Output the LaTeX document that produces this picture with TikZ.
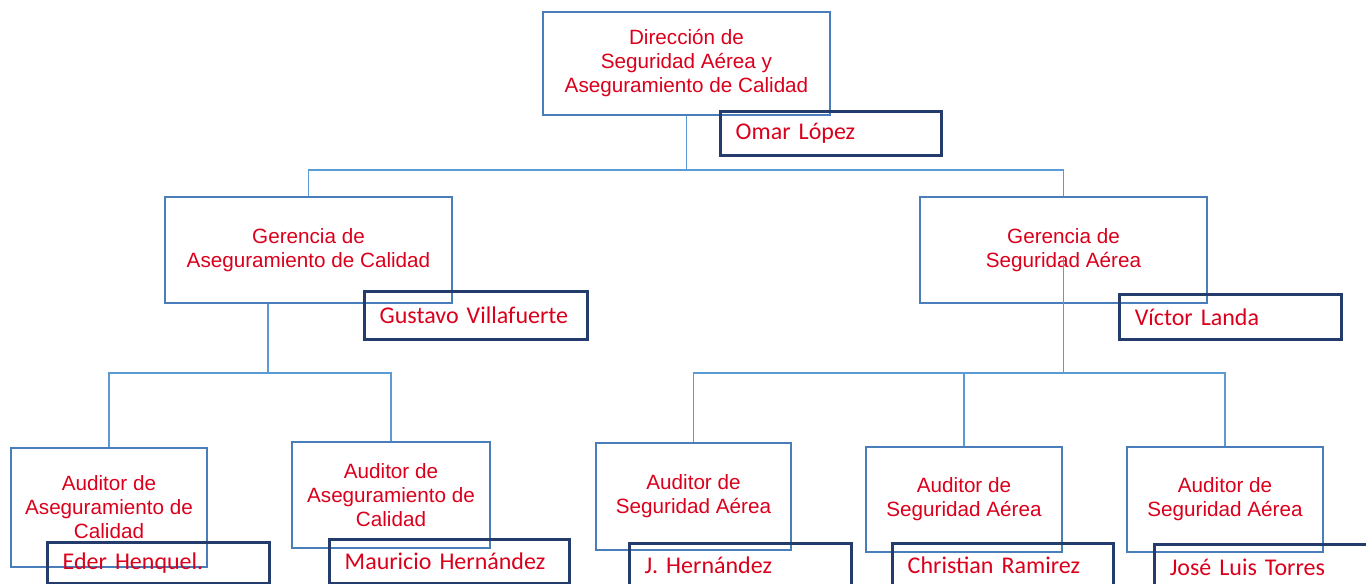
\documentclass[tikz,border=0pt]{standalone}
\usepackage{fontspec}
\usetikzlibrary{positioning,calc}
\newfontfamily\deptfont{Liberation Sans}
\newfontfamily\personfont{Carlito}
\definecolor{boxblue}{RGB}{74,126,187}
\definecolor{linkblue}{RGB}{91,155,213}
\definecolor{navy}{RGB}{36,60,108}
\definecolor{orgred}{RGB}{218,0,28}

\begin{document}
\begin{tikzpicture}[
  x=0.75pt, y=-0.75pt,
  dept/.style={draw=boxblue, line width=0.9pt, text=orgred, align=center,
    font=\deptfont\fontsize{15.5}{18}\selectfont, inner sep=0pt},
  person/.style={draw=navy, line width=2.6pt, text=orgred, anchor=north west,
    align=left, inner xsep=11.25pt, inner ysep=0pt, text width=#1,
    font=\personfont\fontsize{18}{20}\selectfont},
  link/.style={draw=linkblue, line width=0.9pt}
]
\useasboundingbox (0,0) rectangle (1366,584);
\clip (0,0) rectangle (1366,584);

% Direction
\node[dept, minimum width=215.25pt, minimum height=77.25pt] (dir) at (686.5,63.5)
  {Dirección de\\Seguridad Aérea y\\Aseguramiento de Calidad};

% Managements
\node[dept, minimum width=215.25pt, minimum height=79.5pt] (gerA) at (308.5,250)
  {Gerencia de\\Aseguramiento de Calidad};
\node[dept, minimum width=215.25pt, minimum height=79.5pt] (gerS) at (1063.5,250)
  {Gerencia de\\Seguridad Aérea};

% Auditors
\node[dept, minimum width=147pt, minimum height=89.25pt] (audA1) at (109,507.5)
  {Auditor de\\Aseguramiento de\\Calidad};
\node[dept, minimum width=148.5pt, minimum height=79.5pt] (audA2) at (391,495)
  {Auditor de\\Aseguramiento de\\Calidad};
\node[dept, minimum width=146.25pt, minimum height=80.25pt] (audS1) at (693.5,496.5)
  {Auditor de\\Seguridad Aérea};
\node[dept, minimum width=147pt, minimum height=78.75pt] (audS2) at (964,499.5)
  {Auditor de\\Seguridad Aérea};
\node[dept, minimum width=147pt, minimum height=78.75pt] (audS3) at (1225,499.5)
  {Auditor de\\Seguridad Aérea};

% Names
\node[person=143.25pt, minimum height=33pt] (omar) at (719,110) {Omar López};
\node[person=144.75pt, minimum height=36pt] (gustavo) at (363,290) {Gustavo Villafuerte};
\node[person=144pt, minimum height=33.75pt] (victor) at (1118,293) {Víctor Landa};
\node[person=144pt, minimum height=30.75pt] (eder) at (46,541) {Eder Henquel.};
\node[person=157.5pt, minimum height=33pt] (mauricio) at (328,538) {Mauricio Hernández};
\node[person=144pt, minimum height=33pt] (jher) at (628,542) {J. Hernández};
\node[person=143.25pt, minimum height=33pt] (christian) at (891,542) {Christian Ramirez};
\node[person=157.5pt, minimum height=33.75pt] (jose) at (1153,543) {José Luis Torres};

% Connectors
\coordinate (busTop) at (686.5,170);
\draw[link] (dir.south) -- (busTop);
\draw[link] (gerA.north) |- (busTop) -| (gerS.north);

\coordinate (busA) at (268,373);
\draw[link] (busA |- gerA.south) -- (busA);
\draw[link] (audA1.north) |- (busA) -| (audA2.north);

\coordinate (busS) at (1063.5,373);
\coordinate (gerSin) at (1063.5,258);
\draw[link] (gerSin) -- (busS);
\draw[link] (audS1.north) |- (busS) -| (audS3.north);
\draw[link] (audS2.north) -- (audS2.north |- busS);

\end{tikzpicture}
\end{document}
